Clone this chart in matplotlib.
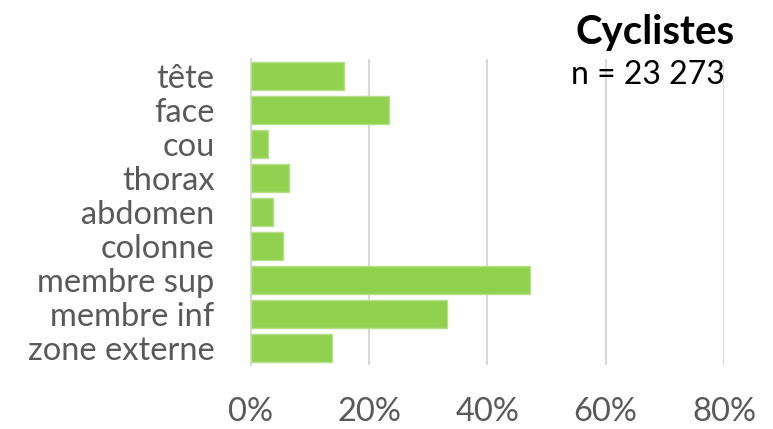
import matplotlib.pyplot as plt
from matplotlib.ticker import PercentFormatter

plt.rcParams['font.family'] = ['Lato', 'DejaVu Sans']

zones = ["tête", "face", "cou", "thorax", "abdomen", "colonne",
         "membre sup", "membre inf", "zone externe"]
parts = [15.7, 23.4, 2.9, 6.4, 3.7, 5.5, 47.2, 33.1, 13.7]
title = "Cyclistes"
count_label = "n = 23 273"

fig = plt.figure(figsize=(7.73, 4.29), dpi=100)
ax = fig.add_axes([0.3243, 0.1492, 0.6123, 0.7133])

pos = list(range(len(zones)))
ax.barh(pos, parts, height=0.82, color="#92D050", edgecolor="#B5E08A",
        linewidth=1.0, zorder=3)
ax.set_yticks(pos)
ax.set_yticklabels(zones)
ax.set_ylim(len(zones) - 0.5, -0.5)

ax.set_xlim(0, 80)
ax.set_xticks([0, 20, 40, 60, 80])
ax.xaxis.set_major_formatter(PercentFormatter(decimals=0))
ax.grid(axis="x", color="#D9D9D9", linewidth=1.5, zorder=0)
ax.set_axisbelow(True)

for side in ["top", "right", "bottom"]:
    ax.spines[side].set_visible(False)
ax.spines["left"].set_color("#D9D9D9")
ax.spines["left"].set_linewidth(1.5)

ax.tick_params(axis="y", length=0, pad=26, labelsize=23.5, labelcolor="#595959")
ax.tick_params(axis="x", length=0, pad=23, labelsize=23.5, labelcolor="#595959")

fig.text(0.847, 0.925, title, ha="center", va="center", fontsize=29,
         fontweight="bold", color="black")
fig.text(0.739, 0.825, count_label, ha="left", va="center", fontsize=23,
         color="black")

fig.savefig("out.png", dpi=100)
